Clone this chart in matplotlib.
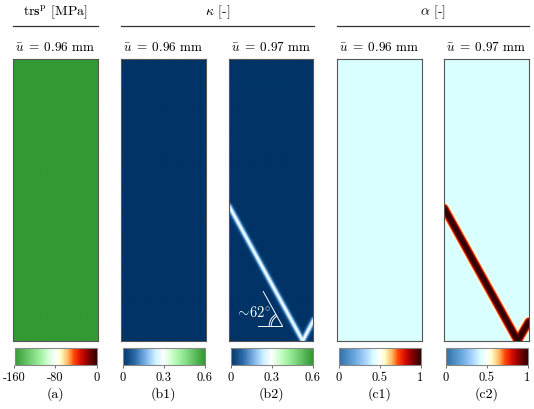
import numpy as np
import matplotlib
matplotlib.use('Agg')
import matplotlib.pyplot as plt
from matplotlib.colors import LinearSegmentedColormap
from matplotlib.patches import Arc

plt.rcParams['font.family'] = 'cmr10'
plt.rcParams['mathtext.fontset'] = 'cm'
plt.rcParams['axes.formatter.use_mathtext'] = True
plt.rcParams['font.size'] = 9.5

# --- data -------------------------------------------------------------
group_titles = [r'$\mathrm{tr}\mathbf{s}^{\mathrm{p}}$ [MPa]', r'$\kappa$ [-]', r'$\alpha$ [-]']
panel_labels = ['(a)', '(b1)', '(b2)', '(c1)', '(c2)']
load_values = ['0.96', '0.96', '0.97', '0.96', '0.97']
panel_kind = ['trs', 'kappa', 'kappa', 'alpha', 'alpha']

trs_value = -160.0          # uniform plastic trace
kappa_background = 0.0
kappa_band_peak = 0.29
alpha_background = 0.43
alpha_band_peak = 1.0

# crack band centrelines (x, y) in panel units (width 1)
band_b2 = [(0.0, 1.595), (0.869, 0.0), (1.0, 0.25)]
band_c2 = [(0.0, 1.571), (0.869, 0.0), (1.0, 0.226)]

cbar_limits = {'trs': (-160, 0), 'kappa': (0, 0.6), 'alpha': (0, 1)}
cbar_ticks = {'trs': [-160, -80, 0], 'kappa': [0, 0.3, 0.6], 'alpha': [0, 0.5, 1]}
cbar_ticklabels = {'trs': ['-160', '-80', '0'], 'kappa': ['0', '0.3', '0.6'],
                   'alpha': ['0', '0.5', '1']}
angle_label = r'$\sim\!62^{\circ}$'

# --- colormaps ----------------------------------------------------------
cmap_trs = LinearSegmentedColormap.from_list('trs', [
    (0.0, '#339933'), (0.3, '#99ee99'), (0.42, '#d8ffd8'), (0.5, '#ffffff'),
    (0.56, '#ffffcc'), (0.65, '#ffbb66'), (0.73, '#ff4400'), (0.8, '#dd1100'),
    (0.88, '#990000'), (1.0, '#330000')])
cmap_kappa = LinearSegmentedColormap.from_list('kappa', [
    (0.0, '#003366'), (0.15, '#2a6aa8'), (0.3, '#88bbee'), (0.4, '#ccf0ff'),
    (0.5, '#ffffff'), (0.6, '#ccffcc'), (0.72, '#99ee99'), (1.0, '#339933')])
cmap_alpha = LinearSegmentedColormap.from_list('alpha', [
    (0.0, '#2e6da4'), (0.2, '#6aa8dd'), (0.33, '#aad4ff'), (0.43, '#d9ffff'),
    (0.5, '#ffffff'), (0.56, '#ffffcc'), (0.65, '#ffbb66'), (0.73, '#ff4400'),
    (0.8, '#dd1100'), (0.88, '#990000'), (1.0, '#330000')])
cmaps = {'trs': cmap_trs, 'kappa': cmap_kappa, 'alpha': cmap_alpha}

# --- geometry (pixels) -------------------------------------------------
W, H = 534, 409
panel_left = [13, 121, 229, 337, 444]
panel_w, panel_top, panel_h = 84.5, 59, 282
H_units = panel_h / panel_w


def px_axes(x0, y0, w, h):
    return fig.add_axes([x0 / W, 1 - (y0 + h) / H, w / W, h / H])


def dist_to_polyline(X, Y, pts):
    d = np.full(X.shape, np.inf)
    for (x1, y1), (x2, y2) in zip(pts[:-1], pts[1:]):
        dx, dy = x2 - x1, y2 - y1
        t = np.clip(((X - x1) * dx + (Y - y1) * dy) / (dx * dx + dy * dy), 0, 1)
        d = np.minimum(d, np.hypot(X - (x1 + t * dx), Y - (y1 + t * dy)))
    return d


nx, ny = 220, 740
X, Y = np.meshgrid(np.linspace(0, 1, nx), np.linspace(0, H_units, ny))

fields = [
    np.full(X.shape, trs_value),
    np.full(X.shape, kappa_background),
    kappa_background + kappa_band_peak * np.exp(-(dist_to_polyline(X, Y, band_b2) / 0.03) ** 2),
    np.full(X.shape, alpha_background),
    alpha_background + (alpha_band_peak - alpha_background)
    * np.exp(-(dist_to_polyline(X, Y, band_c2) / 0.052) ** 4),
]

fig = plt.figure(figsize=(W / 100, H / 100), dpi=100)

for i, kind in enumerate(panel_kind):
    ax = px_axes(panel_left[i], panel_top, panel_w, panel_h)
    vmin, vmax = cbar_limits[kind]
    im = ax.imshow(fields[i], cmap=cmaps[kind], vmin=vmin, vmax=vmax, origin='lower',
                   extent=[0, 1, 0, H_units], aspect='auto', interpolation='bilinear')
    ax.set_xticks([])
    ax.set_yticks([])
    for s in ax.spines.values():
        s.set_color('#555555')
        s.set_linewidth(0.8)
    ax.set_title(r'$\bar{u}\;=\;' + load_values[i] + r'$ mm', fontsize=9.5, pad=6)

    if i == 2:
        vx, vy = 0.631, 0.179
        ax.plot([vx - 0.293, vx], [vy, vy], color='white', lw=0.7)
        ang = np.deg2rad(119)
        ax.plot([vx, vx + 0.464 * np.cos(ang)], [vy, vy + 0.464 * np.sin(ang)],
                color='white', lw=0.7)
        for r in (0.131, 0.155):
            ax.add_patch(Arc((vx, vy), 2 * r, 2 * r, theta1=119, theta2=180,
                             color='white', lw=0.7))
        ax.text(0.285, 0.34, angle_label, color='white', fontsize=10.5,
                ha='center', va='center')

    cax = px_axes(panel_left[i] + 1.5, 348, 82, 17)
    cb = fig.colorbar(im, cax=cax, orientation='horizontal')
    cb.set_ticks(cbar_ticks[kind])
    cb.set_ticklabels(cbar_ticklabels[kind])
    cb.ax.tick_params(length=2, width=0.6, labelsize=9, pad=3, color='#555555')
    cb.outline.set_edgecolor('#888888')
    cb.outline.set_linewidth(0.8)

    fig.text((panel_left[i] + panel_w / 2) / W, 1 - 394 / H, panel_labels[i],
             ha='center', va='center', fontsize=10)

# group headers with rules
groups = [(0, 0), (1, 2), (3, 4)]
for title, (a, b) in zip(group_titles, groups):
    x0 = panel_left[a]
    x1 = panel_left[b] + panel_w
    fig.add_artist(plt.Line2D([x0 / W, x1 / W], [1 - 26 / H, 1 - 26 / H],
                              color='#333333', lw=0.9))
    fig.text((x0 + x1) / 2 / W, 1 - 12 / H, title, ha='center', va='center', fontsize=10)

fig.savefig('out.png', dpi=100)
